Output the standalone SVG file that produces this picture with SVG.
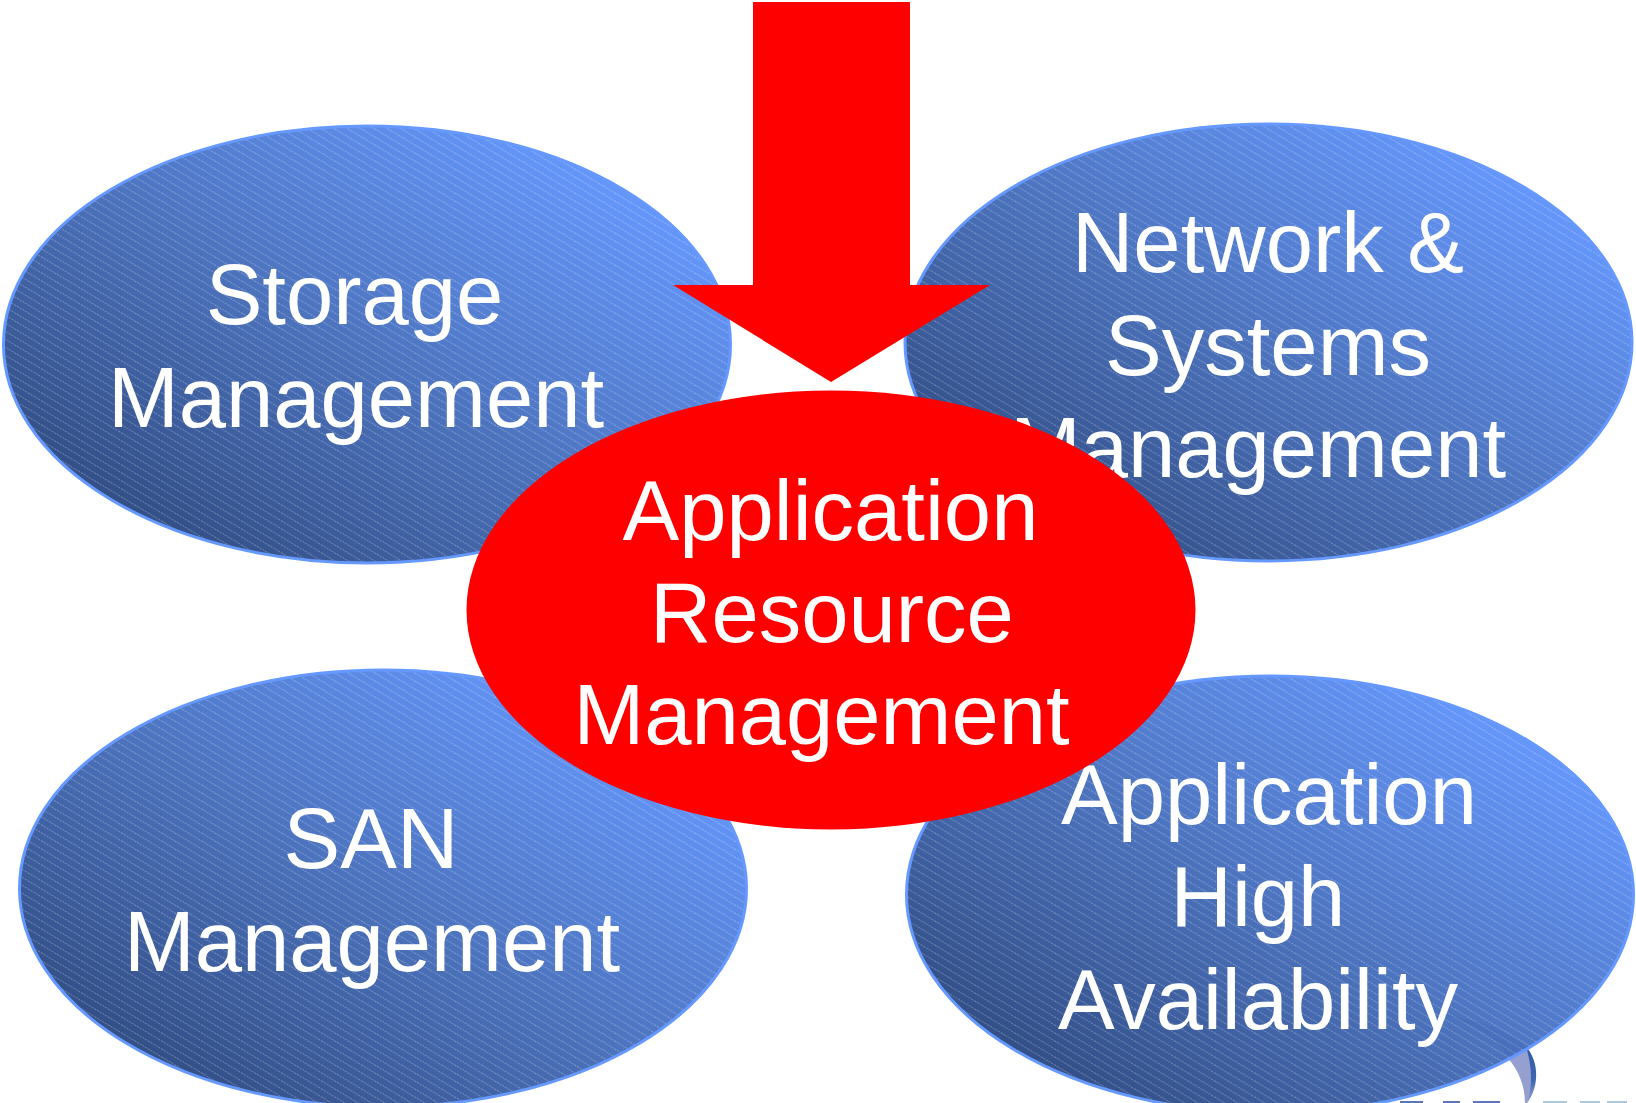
<svg xmlns="http://www.w3.org/2000/svg" width="1636" height="1103" viewBox="0 0 1636 1103">
<style>
.b{fill:url(#g);stroke:#6699ff;stroke-width:3}
.s{fill:url(#st);stroke:none}
.t{font-family:"Liberation Sans",Arial,sans-serif;font-size:85px;fill:#fff;text-anchor:middle}
.r{fill:#f00}
</style>
<defs>
<linearGradient id="g" x1="0.1" y1="0.9" x2="0.9" y2="0.15">
<stop offset="0" stop-color="#2f4a80"/><stop offset="0.5" stop-color="#4c73bd"/><stop offset="1" stop-color="#6699ff"/>
</linearGradient>
<linearGradient id="sw" x1="0" y1="0" x2="0" y2="1">
<stop offset="0" stop-color="#2f5aa8"/><stop offset="0.6" stop-color="#3f68b0"/><stop offset="1" stop-color="#9aa8d4"/>
</linearGradient>
<pattern id="st" width="13.33" height="8" patternUnits="userSpaceOnUse">
<path d="M-1.33 -0.8 L14.66 8.8 M-14.66 -0.8 L1.33 8.8 M12 -0.8 L28 8.8" stroke="#fff" stroke-opacity="0.28" stroke-width="1" stroke-dasharray="2 1" fill="none"/>
</pattern>
<filter id="bl" x="-20%" y="-20%" width="140%" height="140%"><feGaussianBlur stdDeviation="0.7"/></filter>
</defs>
<rect width="1636" height="1103" fill="#fff"/>
<g id="logo" filter="url(#bl)">
<path d="M1508 1058 L1527 1047 C1538 1062 1538 1088 1527 1103 L1525 1103 C1525 1085 1518 1070 1508 1058Z" fill="#959fd0"/>
<path d="M1526 1047 C1540 1062 1539 1088 1527 1103 C1533 1085 1532 1066 1526 1047Z" fill="url(#sw)"/>
<path d="M1400 1101H1423V1103H1400ZM1443 1101H1460V1103H1443ZM1473 1101H1500V1103H1473Z" fill="#5a78b8"/>
<path d="M1543 1101H1567V1103H1543ZM1580 1101H1600V1103H1580ZM1607 1101H1627V1103H1607Z" fill="#a9cbe0"/>
</g>
<g id="storage"><ellipse class="b" cx="367" cy="344.5" rx="363.5" ry="218.5"/><ellipse class="s" cx="367" cy="344.5" rx="362" ry="217"/>
<text class="t" x="354.500" y="324">Storage</text><text class="t" x="356" y="427">Management</text></g>
<g id="network"><ellipse class="b" cx="1268.5" cy="342.5" rx="363.5" ry="218.5"/><ellipse class="s" cx="1268.5" cy="342.5" rx="362" ry="217"/>
<text class="t" x="1268" y="272">Network &amp;</text><text class="t" x="1268" y="375">Systems</text><text class="t" x="1258" y="477">Management</text></g>
<g id="san"><ellipse class="b" cx="383" cy="888.500" rx="363.5" ry="218.5"/><ellipse class="s" cx="383" cy="888.500" rx="362" ry="217"/>
<text class="t" x="371" y="868">SAN</text><text class="t" x="372" y="971">Management</text></g>
<g id="ha"><ellipse class="b" cx="1270" cy="894.500" rx="363.5" ry="218.5"/><ellipse class="s" cx="1270" cy="894.500" rx="362" ry="217"/>
<text class="t" x="1269" y="824">Application</text><text class="t" x="1258" y="926">High</text><text class="t" x="1258" y="1029">Availability</text></g>
<path id="logo-shadow" d="M1440 1014 C1480 1020 1510 1032 1526 1047 L1508 1056 C1495 1035 1470 1022 1440 1014Z" fill="#2f5aa8" opacity="0.15"/>
<g id="connectors"><path id="arrow" class="r" d="M753 2H910V285H990L831 382L673 285H753Z"/></g>
<g id="center"><ellipse class="r" cx="831" cy="610" rx="364.5" ry="219.5"/>
<text class="t" x="830.500" y="540">Application</text><text class="t" x="832" y="642">Resource</text><text class="t" x="821.500" y="744">Management</text></g>
</svg>
